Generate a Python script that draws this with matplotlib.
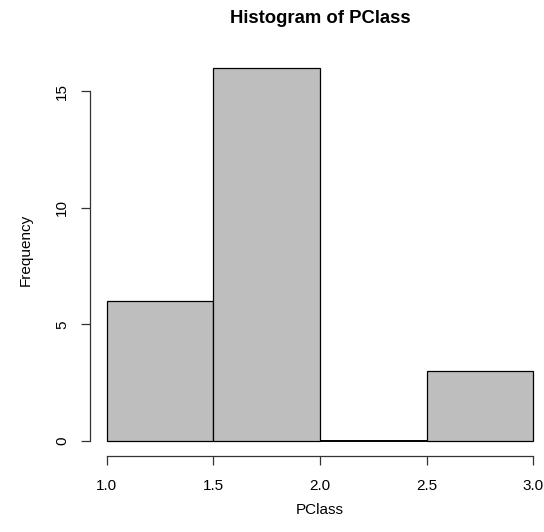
import matplotlib
matplotlib.use("Agg")
import matplotlib.pyplot as plt

plt.rcParams['font.family'] = ['Liberation Sans', 'DejaVu Sans']

# histogram of PClass: bin edges and counts
bin_edges = [1.0, 1.5, 2.0, 2.5, 3.0]
counts = [6, 16, 0, 3]
x_ticks = [1.0, 1.5, 2.0, 2.5, 3.0]
y_ticks = [0, 5, 10, 15]

W, H = 544, 532
fig = plt.figure(figsize=(W / 100, H / 100), dpi=100)

# R-style plot region (extends a bit past the right edge, like the original)
left, right, top, bottom = 89.5, 550.5, 53.0, 456.0
ax = fig.add_axes([left / W, 1 - bottom / H, (right - left) / W, (bottom - top) / H])

lefts = bin_edges[:-1]
widths = [b - a for a, b in zip(bin_edges[:-1], bin_edges[1:])]
bars = ax.bar(lefts, counts, width=widths, align='edge', color='#bebebe',
              edgecolor='black', linewidth=0.9)
# empty bins collapse to a line; R draws them a bit heavier
for b, c in zip(bars, counts):
    if c == 0:
        b.set_linewidth(1.4)

ax.set_xlim(0.92, 3.08)
ax.set_ylim(-0.64, 16.64)

for s in ['top', 'right']:
    ax.spines[s].set_visible(False)
ax.spines['bottom'].set_bounds(1.0, 3.0)
ax.spines['left'].set_bounds(0, 15)
for s in ['bottom', 'left']:
    ax.spines[s].set_color('#333333')
    ax.spines[s].set_linewidth(0.9)

ax.set_xticks(x_ticks)
ax.set_xticklabels(['%.1f' % v for v in x_ticks])
ax.set_yticks(y_ticks)
ax.set_yticklabels([str(v) for v in y_ticks], rotation=90, va='center')
ax.tick_params(axis='both', length=6.3, width=0.9, color='#333333',
               labelsize=11)
ax.tick_params(axis='x', pad=10.5)
ax.tick_params(axis='y', pad=8.5)

fig.text(320 / W, 1 - 23 / H, 'Histogram of PClass', ha='center',
         va='baseline', fontsize=13.3, fontweight='bold')
fig.text(320 / W, 1 - 510 / H, 'PClass', ha='center', va='center',
         fontsize=11)
fig.text(25.7 / W, 1 - 250 / H, 'Frequency', ha='center', va='center',
         rotation=90, fontsize=11)

fig.savefig('out.png', dpi=100)
